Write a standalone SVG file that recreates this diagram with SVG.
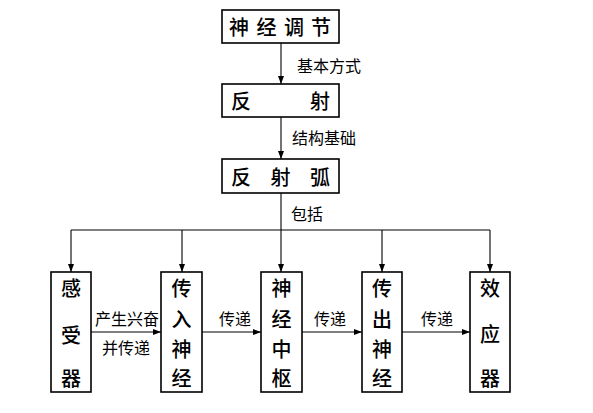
<svg xmlns="http://www.w3.org/2000/svg" width="593" height="413" viewBox="0 0 593 413">
<style>
.box{fill:#fff;stroke:#000;stroke-width:1.6}
.bt{font-family:"Noto Sans CJK SC","Noto Sans",sans-serif;font-size:20px;font-weight:500;fill:#000;text-anchor:middle;dominant-baseline:central}
.lb{font-family:"Noto Sans CJK SC","Noto Sans",sans-serif;font-size:16px;fill:#000;text-anchor:middle;dominant-baseline:central}
.ln{stroke:#000;stroke-width:1.1;fill:none}
</style>
<defs>
<marker id="ah" viewBox="0 0 8 6" refX="8" refY="3" markerWidth="8" markerHeight="6" markerUnits="userSpaceOnUse" orient="auto">
<path d="M0,0 L8,3 L0,6 z" fill="#000"/>
</marker>
</defs>
<g id="connectors">
<line class="ln" x1="281" y1="43" x2="281" y2="84" marker-end="url(#ah)"/>
<line class="ln" x1="281" y1="117" x2="281" y2="159" marker-end="url(#ah)"/>
<line class="ln" x1="281" y1="193" x2="281" y2="230"/>
<line class="ln" x1="71" y1="230" x2="490" y2="230"/>
<line class="ln" x1="71" y1="230" x2="71" y2="272" marker-end="url(#ah)"/>
<line class="ln" x1="182" y1="230" x2="182" y2="272" marker-end="url(#ah)"/>
<line class="ln" x1="281" y1="230" x2="281" y2="272" marker-end="url(#ah)"/>
<line class="ln" x1="382" y1="230" x2="382" y2="272" marker-end="url(#ah)"/>
<line class="ln" x1="490" y1="230" x2="490" y2="272" marker-end="url(#ah)"/>
<line class="ln" x1="91" y1="332" x2="161" y2="332" marker-end="url(#ah)"/>
<line class="ln" x1="202" y1="332" x2="261" y2="332" marker-end="url(#ah)"/>
<line class="ln" x1="302" y1="332" x2="362" y2="332" marker-end="url(#ah)"/>
<line class="ln" x1="402" y1="332" x2="470" y2="332" marker-end="url(#ah)"/>
<text class="lb" x="329" y="65">基本方式</text>
<text class="lb" x="324" y="137">结构基础</text>
<text class="lb" x="307" y="213">包括</text>
<text class="lb" x="127" y="318">产生兴奋</text>
<text class="lb" x="126" y="347">并传递</text>
<text class="lb" x="235" y="318">传递</text>
<text class="lb" x="330" y="318">传递</text>
<text class="lb" x="437" y="318">传递</text>
</g>
<g id="n1">
<rect class="box" x="222" y="10" width="117" height="33"/>
<text class="bt" x="239" y="26">神</text><text class="bt" x="266.5" y="26">经</text><text class="bt" x="294" y="26">调</text><text class="bt" x="321" y="26">节</text>
</g>
<g id="n2">
<rect class="box" x="222" y="84" width="117" height="33"/>
<text class="bt" x="241" y="100">反</text><text class="bt" x="320" y="100">射</text>
</g>
<g id="n3">
<rect class="box" x="222" y="159" width="117" height="34"/>
<text class="bt" x="241" y="176">反</text><text class="bt" x="280.5" y="176">射</text><text class="bt" x="320" y="176">弧</text>
</g>
<g id="n4">
<rect class="box" x="51" y="272" width="40" height="120"/>
<text class="bt" x="71" y="287">感</text><text class="bt" x="71" y="334">受</text><text class="bt" x="71" y="377">器</text>
</g>
<g id="n5">
<rect class="box" x="161" y="272" width="41" height="120"/>
<text class="bt" x="181.5" y="287">传</text><text class="bt" x="181.5" y="318">入</text><text class="bt" x="181.5" y="348">神</text><text class="bt" x="181.5" y="377">经</text>
</g>
<g id="n6">
<rect class="box" x="261" y="272" width="41" height="120"/>
<text class="bt" x="281.5" y="287">神</text><text class="bt" x="281.5" y="318">经</text><text class="bt" x="281.5" y="348">中</text><text class="bt" x="281.5" y="377">枢</text>
</g>
<g id="n7">
<rect class="box" x="362" y="272" width="40" height="120"/>
<text class="bt" x="382" y="287">传</text><text class="bt" x="382" y="318">出</text><text class="bt" x="382" y="348">神</text><text class="bt" x="382" y="377">经</text>
</g>
<g id="n8">
<rect class="box" x="470" y="272" width="40" height="120"/>
<text class="bt" x="490" y="287">效</text><text class="bt" x="490" y="333">应</text><text class="bt" x="490" y="377">器</text>
</g>
</svg>
